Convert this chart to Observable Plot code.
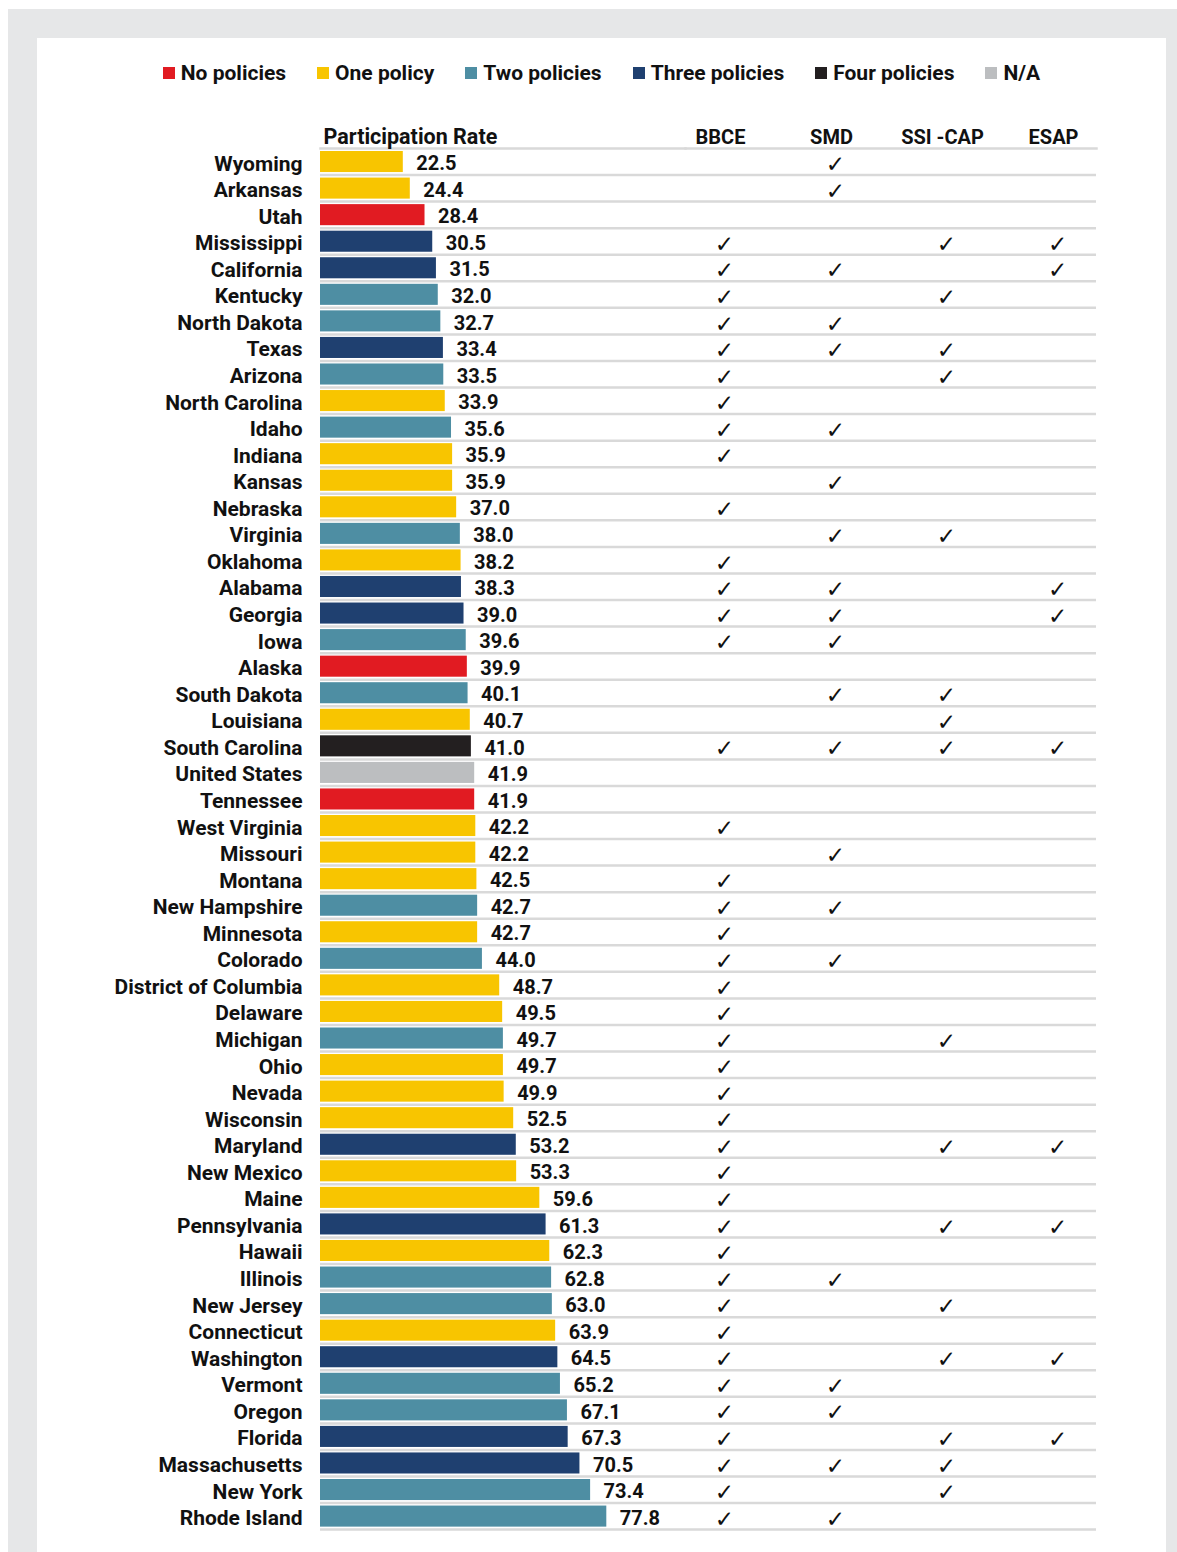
<!DOCTYPE html>
<html>
<head>
<meta charset="utf-8">
<script src="https://cdn.jsdelivr.net/npm/d3@7"></script>
<script src="https://cdn.jsdelivr.net/npm/@observablehq/plot@0.6"></script>
<style>
  body { margin: 0; background: #fff; font-family: Roboto, "Noto Sans", sans-serif; }
  #bg { position: absolute; left: 8px; top: 9px; width: 1169px; height: 1543px; background: #e6e7e8; }
  #panel { position: absolute; left: 37px; top: 38px; width: 1129px; height: 1514px; background: #fff; }
  #legend { position: absolute; left: 37px; top: 60px; width: 1129px; display: flex; justify-content: center; gap: 31px;
            font-weight: 700; font-size: 21px; color: #111; line-height: 26px; }
  .item { display: flex; align-items: center; }
  .sw { width: 12px; height: 12px; margin-right: 6px; }
  #chart { position: absolute; left: 37px; top: 110px; display: flex; align-items: flex-start; width: 1059px; }
  #chart svg { flex: none; }
</style>
</head>
<body>
<div id="bg"></div>
<div id="panel"></div>
<div id="legend"></div>
<div id="chart"></div>
<script>
const categories = ["No policies", "One policy", "Two policies", "Three policies", "Four policies", "N/A"];
const colors = ["#e11b22", "#f8c500", "#4e8ea3", "#1f4070", "#231f20", "#bcbec0"];

const states = ["Wyoming","Arkansas","Utah","Mississippi","California","Kentucky","North Dakota","Texas","Arizona","North Carolina",
  "Idaho","Indiana","Kansas","Nebraska","Virginia","Oklahoma","Alabama","Georgia","Iowa","Alaska",
  "South Dakota","Louisiana","South Carolina","United States","Tennessee","West Virginia","Missouri","Montana","New Hampshire","Minnesota",
  "Colorado","District of Columbia","Delaware","Michigan","Ohio","Nevada","Wisconsin","Maryland","New Mexico","Maine",
  "Pennsylvania","Hawaii","Illinois","New Jersey","Connecticut","Washington","Vermont","Oregon","Florida","Massachusetts",
  "New York","Rhode Island"];
const rates = [22.5,24.4,28.4,30.5,31.5,32.0,32.7,33.4,33.5,33.9,
  35.6,35.9,35.9,37.0,38.0,38.2,38.3,39.0,39.6,39.9,
  40.1,40.7,41.0,41.9,41.9,42.2,42.2,42.5,42.7,42.7,
  44.0,48.7,49.5,49.7,49.7,49.9,52.5,53.2,53.3,59.6,
  61.3,62.3,62.8,63.0,63.9,64.5,65.2,67.1,67.3,70.5,
  73.4,77.8];
// index into categories
const policyGroup = [1,1,0,3,3,2,2,3,2,1,
  2,1,1,1,2,1,3,3,2,0,
  2,1,4,5,0,1,1,1,2,1,
  2,1,1,2,1,1,1,3,1,1,
  3,1,2,2,1,3,2,2,3,3,
  2,2];

const policies = ["BBCE", "SMD", "SSI -CAP", "ESAP"];
const bbce  = [0,0,0,1,1,1,1,1,1,1, 1,1,0,1,0,1,1,1,1,0, 0,0,1,0,0,1,0,1,1,1, 1,1,1,1,1,1,1,1,1,1, 1,1,1,1,1,1,1,1,1,1, 1,1];
const smd   = [1,1,0,0,1,0,1,1,0,0, 1,0,1,0,1,0,1,1,1,0, 1,0,1,0,0,0,1,0,1,0, 1,0,0,0,0,0,0,0,0,0, 0,0,1,0,0,0,1,1,0,1, 0,1];
const ssiCap= [0,0,0,1,0,1,0,1,1,0, 0,0,0,0,1,0,0,0,0,0, 1,1,1,0,0,0,0,0,0,0, 0,0,0,1,0,0,0,1,0,0, 1,0,0,1,0,1,0,0,1,1, 1,0];
const esap  = [0,0,0,1,1,0,0,0,0,0, 0,0,0,0,0,0,1,1,0,0, 0,0,1,0,0,0,0,0,0,0, 0,0,0,0,0,0,0,1,0,0, 1,0,0,0,0,1,0,0,1,0, 0,0];

const rows = states.map((s, i) => ({state: s, rate: rates[i], group: categories[policyGroup[i]]}));
const flags = [bbce, smd, ssiCap, esap];
const checks = [];
states.forEach((s, i) => policies.forEach((p, j) => { if (flags[j][i]) checks.push({state: s, policy: p}); }));

// legend
const legend = d3.select("#legend");
categories.forEach((c, i) => {
  const it = legend.append("div").attr("class", "item");
  it.append("div").attr("class", "sw").style("background", colors[i]);
  it.append("span").text(c);
});

const step = 26.56;
const top0 = 38;
const H = 1429;
const yOpts = () => ({type: "band", domain: states, range: [top0, top0 + states.length * step], padding: 0, round: false, axis: null});
const style = {background: "transparent", fontFamily: "Roboto, 'Noto Sans', sans-serif", fontSize: "21px", fontWeight: "700", color: "#111", overflow: "visible"};
const lineColor = "#d9d9d9";
const mb = H - top0 - states.length * step;

const plotA = Plot.plot({
  width: 648, height: H, marginLeft: 283, marginRight: 0, marginTop: top0, marginBottom: mb,
  style,
  x: {domain: [0, 100], range: [283, 651], axis: null},
  y: yOpts(),
  color: {domain: categories, range: colors},
  marks: [
    Plot.ruleY(states, {y: d => d, dy: step / 2, stroke: lineColor, strokeWidth: 2.5}),
    Plot.frame({anchor: "top", stroke: lineColor, strokeWidth: 2.5}),
    Plot.barX(rows, {x: "rate", y: "state", fill: "group", insetTop: 3, insetBottom: 2.5}),
    Plot.text(rows, {x: "rate", y: "state", text: d => d.rate.toFixed(1), textAnchor: "start", fontSize: 20, dx: 13, dy: 2}),
    Plot.text(rows, {x: 0, y: "state", text: "state", textAnchor: "end", dx: -18, dy: 2}),
    Plot.text(["Participation Rate"], {x: 0, frameAnchor: "top", lineAnchor: "middle", text: d => d, textAnchor: "start", fontSize: 21.5, dx: 3, dy: -11})
  ]
});

const plotB = Plot.plot({
  width: 411, height: H, marginLeft: 0, marginRight: 0, marginTop: top0, marginBottom: mb,
  style,
  x: {type: "point", domain: policies, padding: 0.351, round: false, axis: null},
  y: yOpts(),
  marks: [
    Plot.ruleY(states, {y: d => d, dy: step / 2, stroke: lineColor, strokeWidth: 2.5}),
    Plot.frame({anchor: "top", stroke: lineColor, strokeWidth: 2.5}),
    Plot.text(policies, {x: d => d, frameAnchor: "top", lineAnchor: "middle", text: d => d, fontSize: 20, dx: -4, dy: -11}),
    Plot.text(checks, {x: "policy", y: "state", text: () => "\u2713", fontFamily: "DejaVu Sans", fontWeight: "400", fontSize: 23, fill: "#111", dy: 3})
  ]
});

document.getElementById("chart").append(plotA, plotB);
</script>
</body>
</html>
